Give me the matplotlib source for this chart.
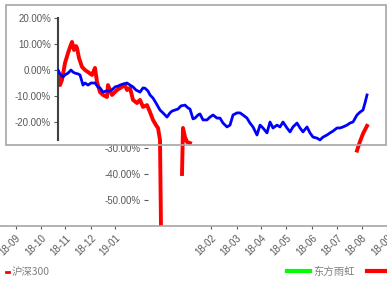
import numpy as np
import matplotlib.pyplot as plt
from matplotlib.lines import Line2D
from matplotlib.patches import Rectangle

plt.rcParams['font.family'] = ['Liberation Sans', 'Noto Sans CJK SC', 'DejaVu Sans']

# 沪深300 (blue): trading-day index, return in %
hs300_day = [0, 2, 5, 7, 10, 13, 15, 17, 20, 22, 25, 27, 30, 33, 37, 40, 42, 45, 48, 52,
             55, 57, 60, 62, 65, 69, 72, 75, 78, 82, 85, 87, 90, 92, 95, 98, 102, 105, 109, 112,
             114, 117, 120, 123, 127, 130, 132, 135, 137, 140, 142, 145, 149, 152, 155, 159, 162, 165, 169, 172,
             175, 179, 182, 185, 189, 192, 195, 199, 202, 205, 209, 212, 215, 219, 222, 225, 229, 232, 235, 239,
             242, 245, 249, 252, 255, 259, 262, 265, 269, 272, 275, 279, 282, 285, 289, 292, 295, 299, 302, 305,
             307, 309]
hs300_ret = [0, -1.5, -2.7, -1.9, -1.2, 0, -0.8, -1.2, -1.5, -1.9, -5.8, -5.0, -5.8, -5.0, -5.0, -6.5, -6.9, -8.5, -8.1, -8.1,
             -7.3, -6.5, -6.2, -5.8, -5.4, -5.0, -5.8, -6.5, -7.7, -8.5, -6.9, -7.0, -8.1, -9.6, -10.8, -12.7, -15.4, -16.5, -18.1, -16.5,
             -15.8, -15.4, -15.0, -13.8, -13.5, -14.6, -15.0, -18.8, -18.5, -17.3, -16.9, -19.2, -19.2, -18.1, -17.3, -18.5, -18.5, -20.4, -21.9, -21.2,
             -17.3, -16.5, -16.5, -17.3, -18.5, -20.4, -21.9, -25.0, -21.2, -22.3, -24.2, -20.0, -22.3, -21.2, -21.9, -20.0, -22.3, -23.8, -21.9, -20.4,
             -22.3, -23.8, -21.9, -24.2, -25.8, -26.2, -26.9, -25.8, -25.0, -24.2, -23.5, -22.3, -22.3, -21.9, -21.2, -20.4, -20.0, -17.3, -16.2, -15.4,
             -12.7, -9.6]

# 东方雨虹 (red): visible parts only, gaps as NaN
dfyh_day = [0, 2, 4, 7, 10, 12, 14, 16, 18, 19, 21, 24, 27, 30, 34, 37, 39, 42, 45, 49,
            50, 54, 59, 64, 67, 69, 72, 75, 79, 82, 85, 89, 92, 95, 98, 100, 102, 103,
            110,
            124, 125, 127, 129, 132,
            200,
            299, 302, 305, 309]
dfyh_ret = [-0.8, -5.8, -3.8, 2.7, 6.5, 8.8, 10.8, 7.7, 9.2, 8.5, 4.6, 1.2, 0, -0.8, -1.9, 0.8, -4.6, -8.5, -9.6, -10.4,
            -5.8, -9.6, -7.7, -6.5, -5.8, -7.7, -6.9, -11.5, -12.7, -11.5, -14.2, -13.5, -16.2, -19.2, -21.2, -22.3, -26.9, -61,
            np.nan,
            -40, -22.3, -25.8, -27.7, -28.1,
            np.nan,
            -31, -27.5, -24.5, -21.5]

yticks_main = [20, 10, 0, -10, -20]
yticks_mid = [-30, -40, -50]
xtick_pos = [16, 42, 67, 93, 118, 216, 242, 267, 293, 319, 345, 370, 396]
xtick_labels = ['18-09', '18-10', '18-11', '18-12', '19-01', '18-02', '18-03',
                '18-04', '18-05', '18-06', '18-07', '18-08', '18-09']

W, H = 387, 287
fig = plt.figure(figsize=(W / 100, H / 100), dpi=100)
grey = '#595959'

# outer frame
fig.patches.append(Rectangle((6 / W, 1 - 145 / H), 380 / W, 140 / H, transform=fig.transFigure,
                             fill=False, edgecolor='#a6a6a6', linewidth=1.2))

ax = fig.add_axes([58 / W, 1 - 226 / H, 314 / W, 208 / H])
ax.patch.set_alpha(0)
ax.plot(hs300_day, hs300_ret, color='#0000ff', lw=2.0, zorder=3)
ax.plot(dfyh_day, dfyh_ret, color='#ff0000', lw=2.8, zorder=2)
ax.set_xlim(0, 314)
ax.set_ylim(-60, 20)

for s in ['top', 'right']:
    ax.spines[s].set_visible(False)
ax.spines['bottom'].set_visible(False)
ax.spines['left'].set_bounds(-27, 20)
ax.spines['left'].set_color('#404040')
ax.spines['left'].set_linewidth(1.5)
ax.set_xticks([])
ax.set_yticks(yticks_main)
ax.set_yticklabels(['%.2f%%' % v for v in yticks_main])
ax.tick_params(axis='y', labelsize=7, colors=grey, length=3, width=0.8, pad=2)

sec = ax.secondary_yaxis(0.287)
sec.set_yticks(yticks_mid)
sec.set_yticklabels(['%.2f%%' % v for v in yticks_mid])
sec.spines['left'].set_visible(False)
sec.tick_params(axis='y', labelsize=7, colors=grey, length=3, width=0.8, pad=2)

# x axis with month labels
axx = fig.add_axes([0, 1 - 226 / H, 1, 0.0001])
axx.patch.set_alpha(0)
axx.set_xlim(0, W)
axx.set_yticks([])
for s in ['top', 'left', 'right']:
    axx.spines[s].set_visible(False)
axx.spines['bottom'].set_color('#a6a6a6')
axx.spines['bottom'].set_linewidth(1.2)
axx.set_xticks(xtick_pos)
axx.set_xticklabels(xtick_labels, rotation=45, ha='right', rotation_mode='anchor')
axx.tick_params(axis='x', labelsize=7, colors=grey, length=2, pad=3)

# legend
fig.add_artist(Line2D([6 / W, 9 / W], [1 - 272 / H] * 2, color='#ff0000', lw=2))
fig.text(12 / W, 1 - 272 / H, '沪深300', fontsize=7.5, color='#7f7f7f', va='center',
         family=['Noto Sans CJK SC', 'DejaVu Sans'])
fig.add_artist(Line2D([287 / W, 310 / W], [1 - 271 / H] * 2, color='#00ff00', lw=3))
fig.text(313 / W, 1 - 272 / H, '东方雨虹', fontsize=7.5, color='#7f7f7f', va='center',
         family=['Noto Sans CJK SC', 'DejaVu Sans'])
fig.add_artist(Line2D([367 / W, 1.0], [1 - 271 / H] * 2, color='#ff0000', lw=3))

fig.savefig('out.png', dpi=100)
